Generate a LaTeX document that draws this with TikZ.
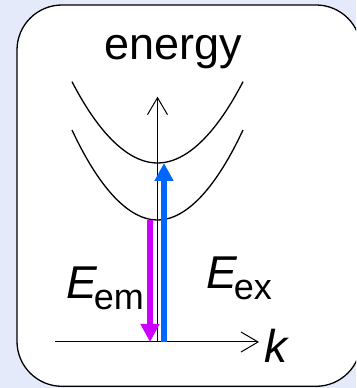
\documentclass[tikz,border=0pt]{standalone}
\usepackage{fontspec}
\setmainfont{Liberation Sans}
\usetikzlibrary{arrows.meta,positioning,calc}
\definecolor{cBg}{HTML}{E5EAFB}
\definecolor{cEm}{HTML}{CC00FF}
\definecolor{cEx}{HTML}{0066FF}
\newcommand{\fs}[1]{\fontsize{#1}{#1}\selectfont}
\newcommand{\enlbl}[2]{{\fs{46}\itshape #1}\kern-3pt\raisebox{-11pt}{\fs{36}#2}}
\tikzset{
  panel/.style={draw=black,fill=white,rounded corners=45pt,line width=1.3pt},
  axis/.style={-{Straight Barb[length=17pt,width=20pt]},line width=1pt},
  band/.style={line width=1.3pt},
  trans/.style={line width=5.3pt,-{Triangle[length=18pt,width=18pt]}},
  lbl/.style={inner sep=0pt,anchor=base west},
}

\begin{document}
\begin{tikzpicture}[x=1pt,y=1pt]

% ---------------------------------------------------------------- frame
\useasboundingbox (0,0) rectangle (356,388);
\clip (0,0) rectangle (356,388);
\fill[cBg] (0,0) rectangle (356,388);
\draw[panel] (17,1.7) rectangle (361,383);

% ---------------------------------------------------------------- axes
\coordinate (o)    at (157.5,46);
\coordinate (kbeg) at (55,46);
\coordinate (kend) at (259,46);
\coordinate (eend) at (157.5,291.3);
\draw[axis] (kbeg) -- (kend);
\draw[axis] (o) -- (eend);
\node[lbl] (k) at (264,25) {\fs{46}\itshape k};
\node[anchor=base,inner sep=0pt] (energy) at (173,328) {\fs{45}energy};

% ---------------------------------------------------------------- bands
\coordinate (up) at (157.5,225);
\coordinate (lo) at (157.5,168);
\draw[band] (72,306.3) parabola bend (up) (243,306.3);
\draw[band] (72,258) parabola bend (lo) (243,258);

% ---------------------------------------------------------------- transitions
\coordinate (emtop) at (150,168);
\coordinate (embot) at (150,46);
\coordinate (exbot) at (164,46);
\coordinate (extop) at (164,225);
\draw[trans,cEm] (emtop) -- (embot);
\draw[trans,cEx] (exbot) -- (extop);

\node[lbl] (Eem) at (66,89.7) {\enlbl{E}{em}};
\node[lbl] (Eex) at (206,99) {\enlbl{E}{ex}};

\end{tikzpicture}
\end{document}
